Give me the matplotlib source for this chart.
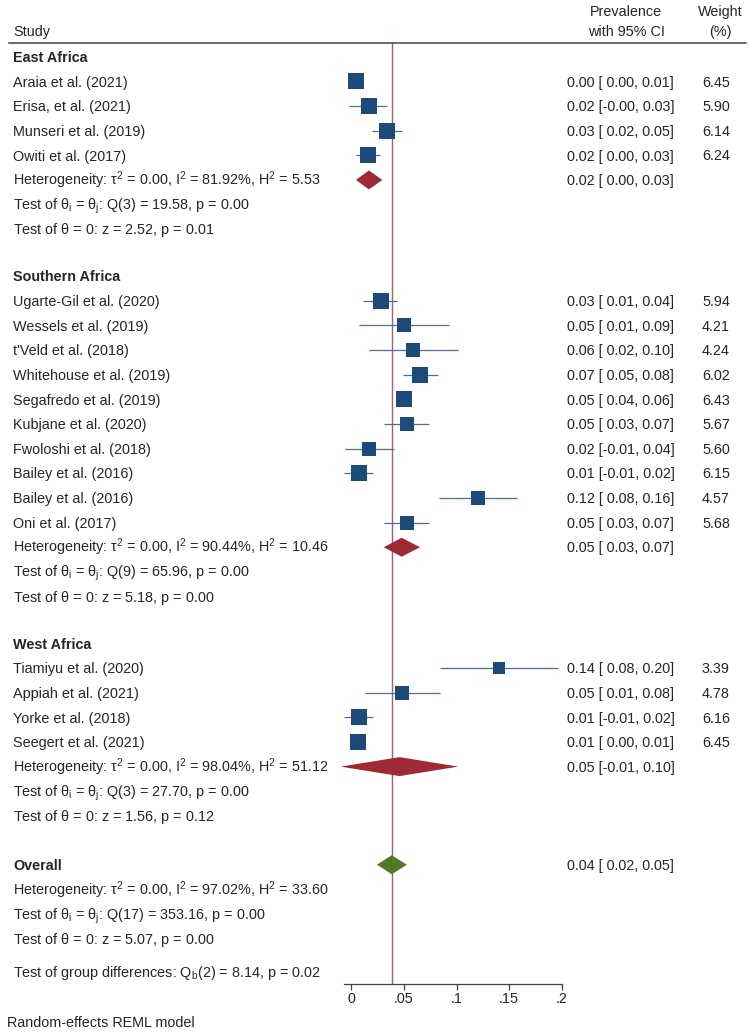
import numpy as np
import matplotlib
matplotlib.use("Agg")
import matplotlib.pyplot as plt
from matplotlib.transforms import blended_transform_factory, offset_copy
from matplotlib.lines import Line2D

plt.rcParams['font.family'] = ['Liberation Sans', 'DejaVu Sans']
plt.rcParams['mathtext.fontset'] = 'custom'
plt.rcParams['mathtext.rm'] = 'Liberation Sans'
plt.rcParams['mathtext.it'] = 'Liberation Sans'
plt.rcParams['mathtext.bf'] = 'Liberation Sans:bold'

# ---------------- data ----------------
group_names = ["East Africa", "Southern Africa", "West Africa"]

study_names = [
    "Araia et al. (2021)", "Erisa, et al. (2021)", "Munseri et al. (2019)", "Owiti et al. (2017)",
    "Ugarte-Gil et al. (2020)", "Wessels et al. (2019)", "t'Veld et al. (2018)",
    "Whitehouse et al. (2019)", "Segafredo et al. (2019)", "Kubjane et al. (2020)",
    "Fwoloshi et al. (2018)", "Bailey et al. (2016)", "Bailey et al. (2016)", "Oni et al. (2017)",
    "Tiamiyu et al. (2020)", "Appiah et al. (2021)", "Yorke et al. (2018)", "Seegert et al. (2021)",
]
study_group = [0, 0, 0, 0, 1, 1, 1, 1, 1, 1, 1, 1, 1, 1, 2, 2, 2, 2]
study_est = [0.0044, 0.0171, 0.0338, 0.0161,
             0.028, 0.0505, 0.059, 0.0657, 0.050, 0.053, 0.017, 0.0073, 0.120, 0.053,
             0.1406, 0.0487, 0.0073, 0.0063]
study_lo = [0.001, -0.0019, 0.0196, 0.0047,
            0.011, 0.0076, 0.017, 0.0496, 0.043, 0.031, -0.006, -0.0063, 0.083, 0.031,
            0.084, 0.0133, -0.0063, 0.001]
study_hi = [0.008, 0.034, 0.048, 0.0278,
            0.044, 0.093, 0.101, 0.082, 0.057, 0.074, 0.041, 0.021, 0.157, 0.074,
            0.1965, 0.084, 0.0212, 0.012]
study_weight = [6.45, 5.90, 6.14, 6.24,
                5.94, 4.21, 4.24, 6.02, 6.43, 5.67, 5.60, 6.15, 4.57, 5.68,
                3.39, 4.78, 6.16, 6.45]

group_est = [0.017, 0.048, 0.046]
group_lo = [0.0047, 0.031, -0.0098]
group_hi = [0.0297, 0.0654, 0.1017]
group_tau2 = [0.00, 0.00, 0.00]
group_i2 = [81.92, 90.44, 98.04]
group_h2 = [5.53, 10.46, 51.12]
group_qdf = [3, 9, 3]
group_q = [19.58, 65.96, 27.70]
group_qp = [0.00, 0.00, 0.00]
group_z = [2.52, 5.18, 1.56]
group_zp = [0.01, 0.00, 0.12]

overall_est, overall_lo, overall_hi = 0.0386, 0.0246, 0.053
overall_tau2, overall_i2, overall_h2 = 0.00, 97.02, 33.60
overall_qdf, overall_q, overall_qp = 17, 353.16, 0.00
overall_z, overall_zp = 5.07, 0.00
groupdiff_df, groupdiff_q, groupdiff_p = 2, 8.14, 0.02

xticks = [0, 0.05, 0.1, 0.15, 0.2]
xtick_labels = ["0", ".05", ".1", ".15", ".2"]

# ---------------- styling ----------------
W, H = 749, 1034
FS = 10.4
TXT = '#262626'
SQ = '#1c4b7a'
CI = '#4d6f8f'
RED = '#a02a33'
GREEN = '#4f7a2a'
VLINE = '#a0607a'

fig = plt.figure(figsize=(W / 100, H / 100), dpi=100)

ROW0_PX = 56.7
ROW_PX = 24.65
TOP_PX, BOT_PX = 43, 984
XL, XR = -0.0064, 0.2
PX_PER_UNIT = 1055.0
ZERO_PX = 351.0
left_px = ZERO_PX + XL * PX_PER_UNIT
width_px = (XR - XL) * PX_PER_UNIT
ax = fig.add_axes([left_px / W, (H - BOT_PX) / H, width_px / W, (BOT_PX - TOP_PX) / H])
ax.set_xlim(XL, XR)
ax.set_ylim((BOT_PX - ROW0_PX) / ROW_PX, -(ROW0_PX - TOP_PX) / ROW_PX)
ax.patch.set_alpha(0)
for s in ['top', 'right', 'left']:
    ax.spines[s].set_visible(False)
ax.spines['bottom'].set_color('#444444')
ax.spines['bottom'].set_linewidth(0.9)
ax.set_yticks([])
ax.set_xticks(xticks)
ax.set_xticklabels(xtick_labels, fontsize=FS, color=TXT)
ax.tick_params(axis='x', length=4, width=0.9, color='#444444', pad=1.5)

trans = blended_transform_factory(fig.transFigure, ax.transData)
# text placed by baseline so that plain and math strings line up
BASE_DROP = 5.2  # px from visual centre down to baseline
trans_txt = offset_copy(trans, fig=fig, x=0, y=-BASE_DROP, units='dots')
LABEL_X = 13 / W
CI_X = 567 / W
WT_X = 702 / W
HH = 9.5 / ROW_PX  # diamond half height in row units


def row_text(x, row, s, bold=False):
    ax.text(x, row, s, transform=trans_txt, fontsize=FS, color=TXT, va='baseline', ha='left',
            fontweight='bold' if bold else 'normal', clip_on=False)


def ci_text(row, e, l, h):
    row_text(CI_X, row, f"{e:.2f} [{l:5.2f}, {h:.2f}]")


def diamond(row, e, l, h, color):
    ax.fill([l, e, h, e], [row, row - HH, row, row + HH], color=color, lw=0, zorder=3, clip_on=False)


def het_text(tau2, i2, h2):
    return rf"Heterogeneity: $\tau^2$ = {tau2:.2f}, I$^2$ = {i2:.2f}%, H$^2$ = {h2:.2f}"


def q_text(df, q, p):
    return rf"Test of $\theta_i$ = $\theta_j$: Q({df}) = {q:.2f}, p = {p:.2f}"


def z_text(z, p):
    return rf"Test of $\theta$ = 0: z = {z:.2f}, p = {p:.2f}"


GAP = 1.9
row = 0.0
for g, gname in enumerate(group_names):
    row_text(LABEL_X, row, gname, bold=True)
    row += 1
    for i in [k for k in range(len(study_names)) if study_group[k] == g]:
        row_text(LABEL_X, row, study_names[i])
        ax.hlines(row, study_lo[i], study_hi[i], color=CI, lw=0.9, zorder=2, clip_on=False)
        side_px = 2.5 + 5.2 * np.sqrt(study_weight[i])
        ax.plot(study_est[i], row, marker='s', ms=side_px * 0.72, color=SQ, mec=SQ, mew=0,
                zorder=3, clip_on=False)
        ci_text(row, study_est[i], study_lo[i], study_hi[i])
        row_text(WT_X, row, f"{study_weight[i]:.2f}")
        row += 1
    row_text(LABEL_X, row, het_text(group_tau2[g], group_i2[g], group_h2[g]))
    diamond(row, group_est[g], group_lo[g], group_hi[g], RED)
    ci_text(row, group_est[g], group_lo[g], group_hi[g])
    row_text(LABEL_X, row + 1, q_text(group_qdf[g], group_q[g], group_qp[g]))
    row_text(LABEL_X, row + 2, z_text(group_z[g], group_zp[g]))
    row += 2 + GAP

row += 0.08
row_text(LABEL_X, row, "Overall", bold=True)
diamond(row, overall_est, overall_lo, overall_hi, GREEN)
ci_text(row, overall_est, overall_lo, overall_hi)
row_text(LABEL_X, row + 1, het_text(overall_tau2, overall_i2, overall_h2))
row_text(LABEL_X, row + 2, q_text(overall_qdf, overall_q, overall_qp))
row_text(LABEL_X, row + 3, z_text(overall_z, overall_zp))
row_text(LABEL_X, row + 4.36,
         rf"Test of group differences: Q$_b$({groupdiff_df}) = {groupdiff_q:.2f}, p = {groupdiff_p:.2f}")

ax.axvline(overall_est, color=VLINE, lw=1.0, zorder=1)


# header
def fig_text(xpx, ypx, s, **kw):
    fig.text(xpx / W, 1 - ypx / H, s, fontsize=FS, color=TXT, va='center', **kw)


fig_text(13, 32.3, "Study", ha='left')
fig_text(626, 11.7, "Prevalence", ha='center')
fig_text(626, 32.3, "with 95% CI", ha='center')
fig_text(720, 11.7, "Weight", ha='center')
fig_text(720, 32.3, "(%)", ha='center')
fig.add_artist(Line2D([9 / W, 746 / W], [1 - 43 / H, 1 - 43 / H], transform=fig.transFigure,
                      color='#444444', lw=1.1))
fig_text(7, 1022.7, "Random-effects REML model", ha='left')

fig.savefig("out.png", dpi=100)
